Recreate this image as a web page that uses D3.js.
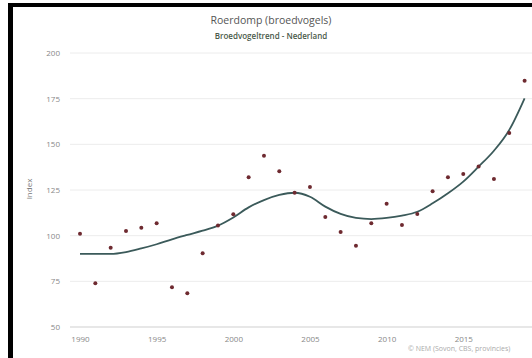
<!DOCTYPE html>
<html><head><meta charset="utf-8">
<script src="https://cdn.jsdelivr.net/npm/d3@7"></script>
<style>body{margin:0;background:#fff}svg{display:block}</style>
</head><body>
<svg id="c" width="532" height="358"></svg>
<script>
const years = d3.range(1990, 2020);
const indexValues = [101,74,93.4,102.6,104.4,106.8,71.8,68.5,90.4,105.5,111.7,132,143.8,135.2,123.5,126.7,110.2,102,94.5,106.8,117.5,105.9,111.9,124.3,132,133.8,137.8,131,156.2,184.8];
const trendValues = [90,90,90,91,93,95.3,98,100.4,102.7,105.5,110,115.5,119.5,122.3,123.5,121.3,115.9,111.9,109.7,109.1,109.7,111,113.1,117.7,123.2,129.6,137.8,146.5,157.9,175.2];
const yTicks = [50,75,100,125,150,175,200];
const xTicks = [1990,1995,2000,2005,2010,2015];
const title = "Roerdomp (broedvogels)";
const subtitle = "Broedvogeltrend - Nederland";
const credits = "© NEM (Sovon, CBS, provincies)";
const yLabel = "Index";

const svg = d3.select("#c");
const font = "'Open Sans', 'DejaVu Sans', sans-serif";
const x = d3.scaleLinear().domain([1990, 2019]).range([80, 524.6]);
const y = d3.scaleLinear().domain([50, 200]).range([327, 53]);

// black frame (top/left)
svg.append("rect").attr("x",8).attr("y",3).attr("width",524).attr("height",4).attr("fill","#000");
svg.append("rect").attr("x",8).attr("y",3).attr("width",5).attr("height",355).attr("fill","#000");

// gridlines
svg.append("g").selectAll("line").data(yTicks).join("line")
  .attr("x1",70).attr("x2",532)
  .attr("y1",d=>y(d)).attr("y2",d=>y(d))
  .attr("stroke",d=>d===50?"#cfcfcf":"#ececec").attr("stroke-width",1);

// y axis
const yAxis = d3.axisLeft(y).tickValues(yTicks).tickSize(0).tickPadding(0);
const gy = svg.append("g").attr("transform","translate(60,0)").call(yAxis);
gy.select(".domain").remove();
gy.selectAll("text").attr("font-family",font).attr("font-size",8).attr("fill","#888");

// x axis
const xAxis = d3.axisBottom(x).tickValues(xTicks).tickFormat(d3.format("d")).tickSize(0).tickPadding(0);
const gx = svg.append("g").attr("transform","translate(0,336)").call(xAxis);
gx.select(".domain").remove();
gx.selectAll("text").attr("font-family",font).attr("font-size",8).attr("fill","#888");

// y label
svg.append("text").attr("transform","translate(32,189) rotate(-90)")
  .attr("text-anchor","middle").attr("font-family",font).attr("font-size",8).attr("fill","#777").text(yLabel);

// titles
svg.append("text").attr("x",271).attr("y",24).attr("text-anchor","middle")
  .attr("font-family",font).attr("font-size",10.5).attr("fill","#555").text(title);
svg.append("text").attr("x",271).attr("y",39).attr("text-anchor","middle")
  .attr("font-family",font).attr("font-size",8).attr("font-weight",600).attr("fill","#4a5a4a").text(subtitle);

// trend line
const line = d3.line().x((d,i)=>x(years[i])).y(d=>y(d)).curve(d3.curveMonotoneX);
svg.append("path").datum(trendValues).attr("d",line)
  .attr("fill","none").attr("stroke","#3b5a5a").attr("stroke-width",1.8);

// points
svg.append("g").selectAll("circle").data(indexValues).join("circle")
  .attr("cx",(d,i)=>x(years[i])).attr("cy",d=>y(d)).attr("r",2)
  .attr("fill","#6e2a30");

// credits
svg.append("text").attr("x",408).attr("y",351)
  .attr("font-family",font).attr("font-size",7).attr("fill","#aaa").text(credits);
</script>
</body></html>
